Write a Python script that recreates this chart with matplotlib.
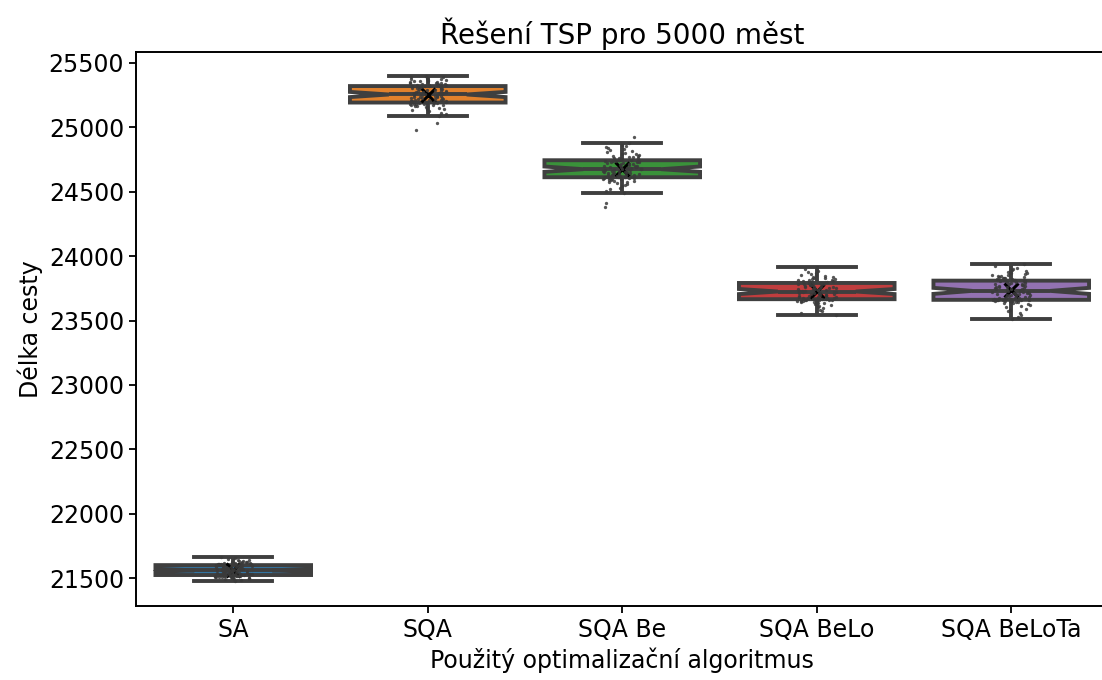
import numpy as np
import pandas as pd
import matplotlib
matplotlib.use("Agg")
import matplotlib.pyplot as plt
import seaborn as sns

categories = ["SA", "SQA", "SQA Be", "SQA BeLo", "SQA BeLoTa"]

sa = [21477, 21484, 21490, 21495, 21499, 21502, 21505, 21507, 21509, 21511,
      21512, 21513, 21514, 21515, 21516, 21517, 21518, 21518, 21519, 21519,
      21520, 21520, 21521, 21521, 21522,
      21524, 21525, 21527, 21528, 21530, 21531, 21533, 21535, 21536, 21538,
      21539, 21541, 21542, 21544, 21545, 21547, 21548, 21550, 21551, 21552,
      21554, 21555, 21556, 21558, 21559,
      21561, 21562, 21564, 21565, 21567, 21568, 21570, 21572, 21573, 21575,
      21577, 21578, 21580, 21582, 21583, 21585, 21587, 21588, 21590, 21591,
      21593, 21595, 21596, 21598, 21600,
      21602, 21603, 21604, 21605, 21606, 21607, 21608, 21610, 21611, 21612,
      21614, 21615, 21617, 21619, 21621, 21623, 21625, 21628, 21631, 21634,
      21638, 21643, 21648, 21655, 21663]

sqa = [24980, 25036, 25088, 25102, 25114, 25124, 25132, 25139, 25145, 25150,
       25155, 25159, 25163, 25167, 25170, 25173, 25176, 25178, 25180, 25182,
       25184, 25186, 25188, 25189, 25191,
       25193, 25196, 25198, 25201, 25203, 25206, 25208, 25211, 25213, 25216,
       25218, 25221, 25223, 25226, 25228, 25231, 25233, 25236, 25238, 25241,
       25243, 25246, 25248, 25251, 25253,
       25257, 25260, 25262, 25265, 25268, 25270, 25273, 25276, 25278, 25281,
       25284, 25286, 25289, 25292, 25294, 25297, 25300, 25302, 25305, 25308,
       25310, 25313, 25315, 25318, 25320,
       25322, 25324, 25326, 25328, 25330, 25332, 25334, 25337, 25339, 25342,
       25344, 25347, 25350, 25353, 25356, 25359, 25362, 25365, 25369, 25373,
       25377, 25382, 25387, 25393, 25401]

sqa_be = [24381, 24415, 24493, 24508, 24521, 24532, 24542, 24551, 24559, 24566,
          24572, 24577, 24582, 24586, 24590, 24593, 24596, 24599, 24601, 24603,
          24605, 24607, 24609, 24610, 24611,
          24613, 24616, 24618, 24621, 24623, 24626, 24628, 24631, 24633, 24636,
          24638, 24641, 24643, 24646, 24648, 24651, 24653, 24656, 24658, 24661,
          24663, 24666, 24668, 24671, 24673,
          24677, 24680, 24683, 24686, 24689, 24692, 24694, 24697, 24700, 24703,
          24706, 24709, 24712, 24715, 24718, 24721, 24724, 24727, 24730, 24733,
          24735, 24738, 24740, 24742, 24744,
          24746, 24749, 24752, 24755, 24758, 24761, 24765, 24769, 24773, 24777,
          24781, 24786, 24791, 24796, 24802, 24808, 24815, 24822, 24830, 24839,
          24848, 24857, 24866, 24876, 24928]

sqa_belo = [23540, 23556, 23570, 23583, 23594, 23604, 23612, 23620, 23627, 23633,
            23638, 23642, 23646, 23649, 23652, 23654, 23656, 23658, 23659, 23660,
            23661, 23662, 23663, 23664, 23664,
            23666, 23668, 23671, 23673, 23676, 23678, 23681, 23683, 23686, 23688,
            23691, 23693, 23696, 23698, 23701, 23703, 23706, 23708, 23711, 23713,
            23715, 23717, 23719, 23721, 23723,
            23727, 23730, 23732, 23735, 23738, 23740, 23743, 23746, 23748, 23751,
            23754, 23756, 23759, 23762, 23764, 23767, 23770, 23772, 23775, 23778,
            23780, 23783, 23786, 23788, 23791,
            23793, 23795, 23797, 23800, 23802, 23805, 23808, 23811, 23814, 23817,
            23820, 23824, 23828, 23832, 23836, 23841, 23846, 23851, 23857, 23863,
            23870, 23878, 23887, 23899, 23913]

sqa_belota = [23512, 23528, 23543, 23557, 23570, 23582, 23593, 23603, 23612, 23620,
              23627, 23633, 23638, 23642, 23646, 23649, 23651, 23653, 23655, 23656,
              23657, 23658, 23658, 23659, 23659,
              23661, 23664, 23667, 23669, 23672, 23675, 23678, 23681, 23683, 23686,
              23689, 23692, 23695, 23697, 23700, 23703, 23706, 23709, 23711, 23714,
              23717, 23720, 23723, 23725, 23728,
              23732, 23735, 23738, 23742, 23745, 23748, 23751, 23755, 23758, 23761,
              23764, 23768, 23771, 23774, 23777, 23781, 23784, 23787, 23790, 23794,
              23797, 23800, 23803, 23806, 23809,
              23811, 23813, 23816, 23818, 23821, 23824, 23827, 23830, 23833, 23837,
              23840, 23844, 23848, 23852, 23856, 23861, 23866, 23871, 23877, 23883,
              23890, 23899, 23910, 23924, 23941]

series = [sa, sqa, sqa_be, sqa_belo, sqa_belota]
yticks = [21500, 22000, 22500, 23000, 23500, 24000, 24500, 25000, 25500]

df = pd.DataFrame({
    "alg": [c for c, s in zip(categories, series) for _ in s],
    "len": [v for s in series for v in s],
})

W, H = 1102, 680
fig = plt.figure(figsize=(W / 100, H / 100), dpi=100)
ax = fig.add_axes([136 / W, 1 - 606 / H, 972.5 / W, (606 - 52) / H])

line_c = "#3f3f3f"
sns.boxplot(data=df, x="alg", y="len", hue="alg", palette="tab10", order=categories,
            hue_order=categories, legend=False, notch=True, showfliers=False, whis=1.0,
            showmeans=True, linewidth=2.8, linecolor=line_c, width=0.8,
            meanprops=dict(marker="x", markeredgecolor="black", markerfacecolor="black",
                           markersize=10, markeredgewidth=2.2),
            ax=ax)
np.random.seed(3)
sns.stripplot(data=df, x="alg", y="len", order=categories, color="#3a3a3a", size=2.4,
              jitter=0.1, alpha=0.85, ax=ax, zorder=3)

ax.set_xlim(-0.5, 4.5)
ax.set_ylim(21283, 25585)
ax.set_yticks(yticks)
ax.set_yticklabels([str(t) for t in yticks])
ax.tick_params(labelsize=17, length=5, width=1.3)
for sp in ax.spines.values():
    sp.set_linewidth(1.4)
ax.set_title("Řešení TSP pro 5000 měst", fontsize=20)
ax.set_xlabel("Použitý optimalizační algoritmus", fontsize=17)
ax.set_ylabel("Délka cesty", fontsize=17)

fig.savefig("out.png", dpi=100)
